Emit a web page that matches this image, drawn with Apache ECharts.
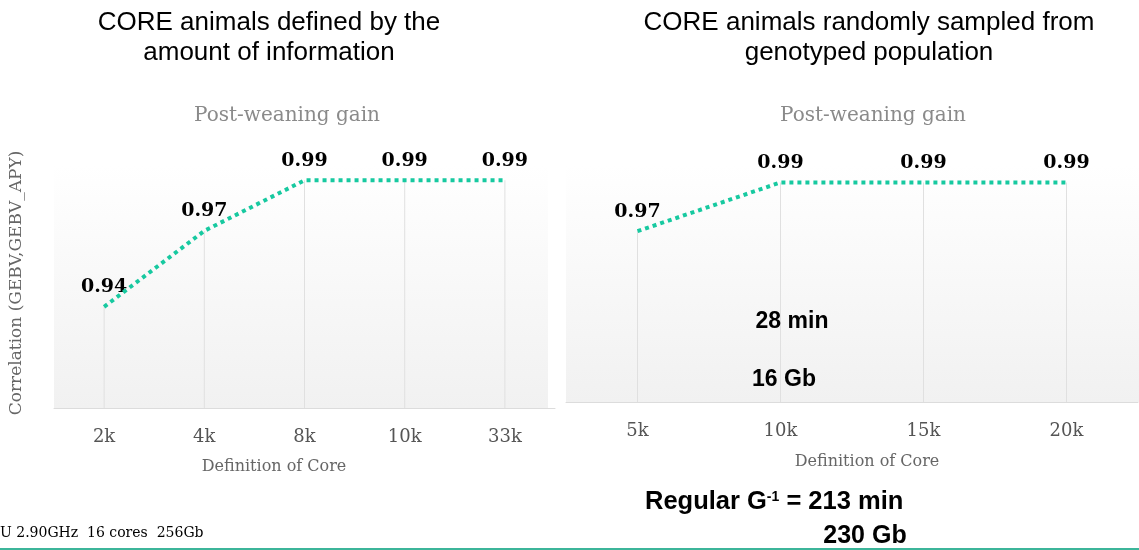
<!DOCTYPE html>
<html><head><meta charset="utf-8">
<script src="https://cdn.jsdelivr.net/npm/echarts@6/dist/echarts.min.js"></script>
<style>html,body{margin:0;padding:0;background:#fff}#c{width:1139px;height:550px}</style>
</head><body><div id="c"></div>
<script>
var leftCategories = ['2k', '4k', '8k', '10k', '33k'];
var leftValues = [0.94, 0.97, 0.99, 0.99, 0.99];
var rightCategories = ['5k', '10k', '15k', '20k'];
var rightValues = [0.97, 0.99, 0.99, 0.99];
var yMin = 0.9, yMax = 1.0;

var serif = '"DejaVu Serif", serif';
var sans = '"Liberation Sans", Arial, sans-serif';
var lineColor = '#17c9a0';
function bgFill() {
  return new echarts.graphic.LinearGradient(0, 0, 0, 1, [{offset: 0, color: '#ffffff'}, {offset: 1, color: '#f1f1f1'}]);
}

function xAxis(idx, cats) {
  return {
    type: 'category', gridIndex: idx, data: cats, boundaryGap: true,
    axisLine: {lineStyle: {color: '#dcdcdc', width: 1}},
    axisTick: {show: false},
    axisLabel: {fontFamily: serif, fontSize: 18, color: '#555', margin: 20},
    splitLine: {show: false}
  };
}
function yAxis(idx) {
  return {type: 'value', gridIndex: idx, min: yMin, max: yMax, show: false, splitLine: {show: false}};
}
function drops(idx, vals) {
  return {
    type: 'bar', xAxisIndex: idx, yAxisIndex: idx, data: vals, barWidth: 1, z: 1,
    itemStyle: {color: '#e0e0e0'},
    label: {show: true, position: 'top', distance: 10, formatter: function (p) { return p.value.toFixed(2); },
      fontFamily: serif, fontWeight: 'bold', fontSize: 19, color: '#000'}
  };
}
function line(idx, vals) {
  return {
    type: 'line', xAxisIndex: idx, yAxisIndex: idx, data: vals, symbol: 'none', z: 3,
    lineStyle: {color: lineColor, width: 4, type: [4, 4], cap: 'butt'}
  };
}

var chart = echarts.init(document.getElementById('c'), null, {renderer: 'canvas'});
chart.setOption({
  animation: false,
  backgroundColor: '#fff',
  grid: [
    {left: 54, right: 584, top: 155, bottom: 142, show: false},
    {left: 566, right: 1, top: 158, bottom: 148, show: false}
  ],
  xAxis: [xAxis(0, leftCategories), xAxis(1, rightCategories)],
  yAxis: [yAxis(0), yAxis(1)],
  series: [drops(0, leftValues), line(0, leftValues), drops(1, rightValues), line(1, rightValues)],
  graphic: [
    {type: 'rect', shape: {x: 54, y: 165, width: 494, height: 243}, style: {fill: bgFill()}, z: -10, silent: true},
    {type: 'rect', shape: {x: 566, y: 165, width: 573, height: 237}, style: {fill: bgFill()}, z: -10, silent: true},
    {type: 'text', style: {text: 'CORE animals defined by the\namount of information', font: '26px ' + sans, fill: '#000', align: 'center', verticalAlign: 'middle', lineHeight: 30}, x: 269, y: 38, z: 10},
    {type: 'text', style: {text: 'CORE animals randomly sampled from\ngenotyped population', font: '26px ' + sans, fill: '#000', align: 'center', verticalAlign: 'middle', lineHeight: 30}, x: 869, y: 38, z: 10},
    {type: 'text', style: {text: 'Post-weaning gain', font: '20px ' + serif, fill: '#8a8a8a', align: 'center', verticalAlign: 'middle'}, x: 287, y: 116},
    {type: 'text', style: {text: 'Post-weaning gain', font: '20px ' + serif, fill: '#8a8a8a', align: 'center', verticalAlign: 'middle'}, x: 873, y: 116},
    {type: 'text', rotation: Math.PI / 2, style: {text: 'Correlation (GEBV,GEBV_APY)', font: '17px ' + serif, fill: '#666', align: 'center', verticalAlign: 'middle'}, x: 17, y: 283},
    {type: 'text', style: {text: 'Definition of Core', font: '16px ' + serif, fill: '#666', align: 'center', verticalAlign: 'middle'}, x: 274, y: 467},
    {type: 'text', style: {text: 'Definition of Core', font: '16px ' + serif, fill: '#666', align: 'center', verticalAlign: 'middle'}, x: 867, y: 462},
    {type: 'text', style: {text: '28 min', font: 'bold 23px ' + sans, fill: '#000', align: 'center', verticalAlign: 'middle'}, x: 792, y: 322, z: 10},
    {type: 'text', style: {text: '16 Gb', font: 'bold 23px ' + sans, fill: '#000', align: 'center', verticalAlign: 'middle'}, x: 784, y: 380, z: 10},
    {type: 'text', style: {text: 'Regular G{sup|-1} = 213 min', rich: {sup: {fontSize: 14, fontWeight: 'bold', fontFamily: sans, padding: [0, 0, 10, 0]}}, font: 'bold 25.5px ' + sans, fill: '#000', align: 'left', verticalAlign: 'middle'}, x: 645, y: 502, z: 10},
    {type: 'text', style: {text: '230 Gb', font: 'bold 25px ' + sans, fill: '#000', align: 'center', verticalAlign: 'middle'}, x: 865, y: 536, z: 10},
    {type: 'text', style: {text: 'U 2.90GHz  16 cores  256Gb', font: '14px ' + serif, fill: '#000', align: 'left', verticalAlign: 'middle'}, x: 0, y: 533},
    {type: 'line', shape: {x1: 0, y1: 549, x2: 1139, y2: 549}, style: {stroke: '#3cb59a', lineWidth: 2}}
  ]
});
</script></body></html>
